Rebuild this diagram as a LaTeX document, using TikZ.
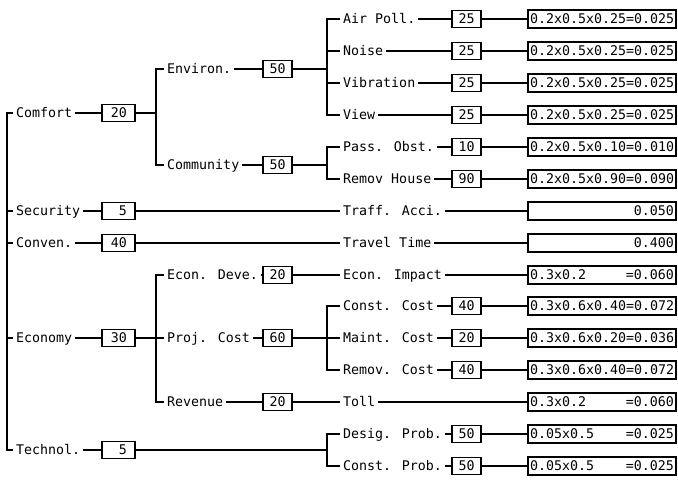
\documentclass[tikz,border=0pt]{standalone}
\usepackage{fontspec}
\newfontfamily\dmono{DejaVu Sans Mono}
\newcommand\rb[2]{\hbox to 144pt{#1\hfil#2}}
\begin{document}
\begin{tikzpicture}[x=1pt,y=-1pt,
  font={\dmono\fontsize{13.3}{14}\selectfont},
  lbl/.style={anchor=west, inner xsep=3pt, inner ysep=0pt, text height=9.7pt, text depth=0pt},
  wbox/.style={draw, line width=1.5pt, inner ysep=0pt, minimum height=17pt, text height=9.7pt, text depth=0pt, align=right},
  topbox/.style={wbox, text width=17pt, inner xsep=8pt},
  midbox/.style={wbox, text width=16pt, inner xsep=6.5pt},
  rbox/.style={draw, line width=1.5pt, inner xsep=2pt, inner ysep=0pt, minimum height=18pt, text height=9.7pt, text depth=0pt},
  con/.style={line width=1.2pt},
]
\useasboundingbox (0,0) rectangle (678,481);
\coordinate (sp) at (7,0);
\coordinate (b1) at (156,0);
\coordinate (b2) at (327,0);

% top level
\node[lbl] (comf) at (13,113) {Comfort};
\node[topbox] (wcomf) at (118.5,113) {20};
\node[lbl] (sec) at (13,211) {Security};
\node[topbox] (wsec) at (118.5,211) {5};
\node[lbl] (conv) at (13,243) {Conven.};
\node[topbox] (wconv) at (118.5,243) {40};
\node[lbl] (eco) at (13,338) {Economy};
\node[topbox] (weco) at (118.5,338) {30};
\node[lbl] (tech) at (13,450) {Technol.};
\node[topbox] (wtech) at (118.5,450) {5};

% level 2
\node[lbl] (env) at (164,69) {Environ.};
\node[midbox] (wenv) at (277.5,69) {50};
\node[lbl] (comm) at (164,165) {Community};
\node[midbox] (wcomm) at (277.5,165) {50};
\node[lbl] (edev) at (164,275) {Econ. Deve.};
\node[midbox] (wedev) at (277.5,275) {20};
\node[lbl] (pcost) at (164,338) {Proj. Cost};
\node[midbox] (wpcost) at (277.5,338) {60};
\node[lbl] (rev) at (164,402) {Revenue};
\node[midbox] (wrev) at (277.5,402) {20};

% level 3
\node[lbl] (air) at (340,19) {Air Poll.};
\node[midbox] (wair) at (466.5,19) {25};
\node[lbl] (noise) at (340,51) {Noise};
\node[midbox] (wnoise) at (466.5,51) {25};
\node[lbl] (vib) at (340,83) {Vibration};
\node[midbox] (wvib) at (466.5,83) {25};
\node[lbl] (view) at (340,115) {View};
\node[midbox] (wview) at (466.5,115) {25};
\node[lbl] (pass) at (340,147) {Pass. Obst.};
\node[midbox] (wpass) at (466.5,147) {10};
\node[lbl] (remh) at (340,179) {Remov House};
\node[midbox] (wremh) at (466.5,179) {90};
\node[lbl] (traff) at (340,211) {Traff. Acci.};
\node[lbl] (trav) at (340,243) {Travel Time};
\node[lbl] (eimp) at (340,275) {Econ. Impact};
\node[lbl] (ccost) at (340,306) {Const. Cost};
\node[midbox] (wccost) at (466.5,306) {40};
\node[lbl] (mcost) at (340,338) {Maint. Cost};
\node[midbox] (wmcost) at (466.5,338) {20};
\node[lbl] (rcost) at (340,370) {Remov. Cost};
\node[midbox] (wrcost) at (466.5,370) {40};
\node[lbl] (toll) at (340,402) {Toll};
\node[lbl] (desig) at (340,434) {Desig. Prob.};
\node[midbox] (wdesig) at (466.5,434) {50};
\node[lbl] (cprob) at (340,466) {Const. Prob.};
\node[midbox] (wcprob) at (466.5,466) {50};

% results
\node[rbox] (r1) at (602,19) {\rb{0.2x0.5x0.25=0.025}{}};
\node[rbox] (r2) at (602,51) {\rb{0.2x0.5x0.25=0.025}{}};
\node[rbox] (r3) at (602,83) {\rb{0.2x0.5x0.25=0.025}{}};
\node[rbox] (r4) at (602,115) {\rb{0.2x0.5x0.25=0.025}{}};
\node[rbox] (r5) at (602,147) {\rb{0.2x0.5x0.10=0.010}{}};
\node[rbox] (r6) at (602,179) {\rb{0.2x0.5x0.90=0.090}{}};
\node[rbox] (r7) at (602,211) {\rb{}{0.050}};
\node[rbox] (r8) at (602,243) {\rb{}{0.400}};
\node[rbox] (r9) at (602,275) {\rb{0.3x0.2}{=0.060}};
\node[rbox] (r10) at (602,306) {\rb{0.3x0.6x0.40=0.072}{}};
\node[rbox] (r11) at (602,338) {\rb{0.3x0.6x0.20=0.036}{}};
\node[rbox] (r12) at (602,370) {\rb{0.3x0.6x0.40=0.072}{}};
\node[rbox] (r13) at (602,402) {\rb{0.3x0.2}{=0.060}};
\node[rbox] (r14) at (602,434) {\rb{0.05x0.5}{=0.025}};
\node[rbox] (r15) at (602,466) {\rb{0.05x0.5}{=0.025}};

% spine
\draw[con] (comf.west) -- (comf.west -| sp) -- (tech.west -| sp) -- (tech.west);
\draw[con] (sec.west -| sp) -- (sec.west);
\draw[con] (conv.west -| sp) -- (conv.west);
\draw[con] (eco.west -| sp) -- (eco.west);

% top level connectors
\draw[con] (comf.east) -- (wcomf.west);
\draw[con] (sec.east) -- (wsec.west);
\draw[con] (conv.east) -- (wconv.west);
\draw[con] (eco.east) -- (weco.west);
\draw[con] (tech.east) -- (wtech.west);

% level 2 brackets
\draw[con] (env.west) -- (env.west -| b1) -- (comm.west -| b1) -- (comm.west);
\draw[con] (wcomf.east) -- (wcomf.east -| b1);
\draw[con] (edev.west) -- (edev.west -| b1) -- (rev.west -| b1) -- (rev.west);
\draw[con] (weco.east) -- (pcost.west);

\draw[con] (env.east) -- (wenv.west);
\draw[con] (comm.east) -- (wcomm.west);
\draw[con] (edev.east) -- (wedev.west);
\draw[con] (pcost.east) -- (wpcost.west);
\draw[con] (rev.east) -- (wrev.west);

% level 3 brackets
\draw[con] (air.west) -- (air.west -| b2) -- (view.west -| b2) -- (view.west);
\draw[con] (noise.west -| b2) -- (noise.west);
\draw[con] (vib.west -| b2) -- (vib.west);
\draw[con] (wenv.east) -- (wenv.east -| b2);
\draw[con] (pass.west) -- (pass.west -| b2) -- (remh.west -| b2) -- (remh.west);
\draw[con] (wcomm.east) -- (wcomm.east -| b2);
\draw[con] (ccost.west) -- (ccost.west -| b2) -- (rcost.west -| b2) -- (rcost.west);
\draw[con] (wpcost.east) -- (mcost.west);
\draw[con] (desig.west) -- (desig.west -| b2) -- (cprob.west -| b2) -- (cprob.west);
\draw[con] (wtech.east) -- (wtech.east -| b2);

% straight through connectors
\draw[con] (wsec.east) -- (traff.west);
\draw[con] (wconv.east) -- (trav.west);
\draw[con] (wedev.east) -- (eimp.west);
\draw[con] (wrev.east) -- (toll.west);

% level 3 to weight boxes
\draw[con] (air.east) -- (wair.west);
\draw[con] (noise.east) -- (wnoise.west);
\draw[con] (vib.east) -- (wvib.west);
\draw[con] (view.east) -- (wview.west);
\draw[con] (pass.east) -- (wpass.west);
\draw[con] (remh.east) -- (wremh.west);
\draw[con] (ccost.east) -- (wccost.west);
\draw[con] (mcost.east) -- (wmcost.west);
\draw[con] (rcost.east) -- (wrcost.west);
\draw[con] (desig.east) -- (wdesig.west);
\draw[con] (cprob.east) -- (wcprob.west);

% to results
\draw[con] (wair.east) -- (r1.west);
\draw[con] (wnoise.east) -- (r2.west);
\draw[con] (wvib.east) -- (r3.west);
\draw[con] (wview.east) -- (r4.west);
\draw[con] (wpass.east) -- (r5.west);
\draw[con] (wremh.east) -- (r6.west);
\draw[con] (traff.east) -- (r7.west);
\draw[con] (trav.east) -- (r8.west);
\draw[con] (eimp.east) -- (r9.west);
\draw[con] (wccost.east) -- (r10.west);
\draw[con] (wmcost.east) -- (r11.west);
\draw[con] (wrcost.east) -- (r12.west);
\draw[con] (toll.east) -- (r13.west);
\draw[con] (wdesig.east) -- (r14.west);
\draw[con] (wcprob.east) -- (r15.west);
\end{tikzpicture}
\end{document}
